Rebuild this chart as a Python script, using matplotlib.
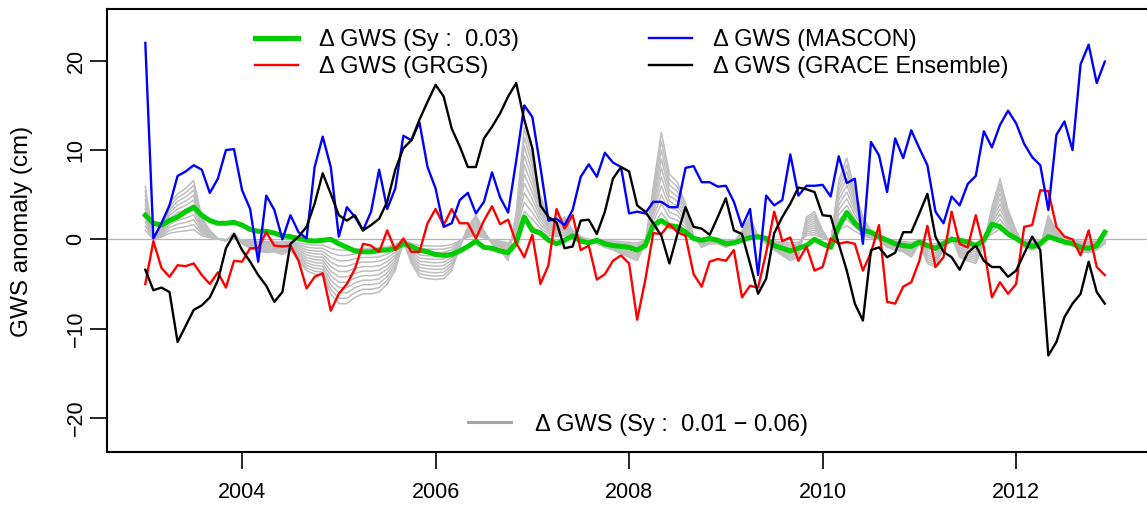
import numpy as np
import matplotlib
matplotlib.use("Agg")
import matplotlib.pyplot as plt
from matplotlib.lines import Line2D

plt.rcParams['font.family'] = ['Liberation Sans', 'DejaVu Sans']

# monthly GWS anomalies (cm), Jan 2003 - Dec 2012
years = 2003 + np.arange(120) / 12

mascon = [22.0, 0.1, 1.8, 3.8, 7.1, 7.6, 8.3, 7.8, 5.2, 6.8, 10.0, 10.1,
          5.5, 3.4, -2.5, 4.9, 3.3, 0.0, 2.7, 0.8, 0.1, 8.1, 11.5, 8.1,
          0.3, 3.6, 2.5, 1.0, 3.1, 7.8, 3.4, 5.7, 11.6, 11.1, 13.1, 8.1,
          5.7, 1.4, 1.8, 4.4, 5.2, 2.9, 4.2, 7.5, 4.7, 3.0, 8.8, 15.0,
          13.7, 8.1, 2.1, 2.3, 1.6, 3.3, 7.0, 8.4, 7.0, 9.7, 8.6, 8.1,
          2.9, 3.1, 2.9, 4.2, 4.2, 3.6, 3.6, 8.0, 8.2, 6.4, 6.4, 5.9,
          6.0, 4.2, 1.4, 3.4, -4.0, 4.9, 3.8, 4.4, 9.5, 4.9, 6.0, 6.0,
          6.1, 4.8, 9.3, 6.3, 6.8, -0.5, 10.9, 9.4, 5.3, 11.3, 9.1, 12.2,
          10.2, 8.3, 3.1, 1.8, 4.8, 3.8, 6.2, 7.1, 12.1, 10.3, 12.8, 14.4,
          13.0, 10.7, 9.2, 8.3, 3.3, 11.7, 13.2, 10.0, 19.6, 21.8, 17.5, 19.9]

grgs = [-5.0, -0.2, -3.2, -4.2, -2.9, -3.0, -2.7, -4.0, -5.0, -3.7, -5.4, -2.4,
        -2.5, -1.0, -1.0, 0.8, -0.7, -0.8, -0.7, -2.4, -5.5, -4.2, -3.8, -8.0,
        -6.1, -5.0, -3.3, -0.5, -0.7, -1.4, 1.0, -1.2, 0.1, -1.4, -1.4, 1.8,
        3.4, 1.6, 3.4, 1.8, 1.8, 0.1, 2.1, 3.7, 1.7, 2.2, -0.4, -2.0,
        0.5, -5.0, -2.9, 3.4, 1.2, 2.7, -1.2, -0.7, -4.5, -3.9, -2.4, -1.8,
        -2.7, -9.0, -4.6, 0.7, 0.6, 1.7, 0.8, 0.4, -3.9, -5.3, -2.5, -2.2,
        -2.4, -1.2, -6.5, -5.2, -5.4, -1.5, 3.1, -0.2, 0.2, -2.4, -0.8, -3.5,
        -3.1, 0.1, -0.5, -0.3, -0.5, -3.5, -1.5, 1.6, -7.0, -7.2, -5.3, -4.8,
        -2.4, 1.5, -3.1, -2.0, 3.1, -0.5, -0.9, 2.7, -0.9, -6.5, -4.8, -6.1,
        -5.0, 1.4, 1.6, 5.5, 5.4, 1.4, 0.3, 0.0, -1.8, 1.0, -3.1, -4.0]

ensemble = [-3.4, -5.7, -5.4, -5.9, -11.5, -9.7, -7.9, -7.4, -6.5, -4.6, -1.0, 0.6,
            -1.2, -2.5, -4.0, -5.2, -7.0, -5.9, -0.5, 0.3, 1.4, 4.0, 7.4, 5.1,
            2.7, 2.1, 2.7, 1.0, 1.6, 2.3, 4.2, 7.8, 10.2, 11.1, 13.4, 15.4,
            17.3, 16.0, 12.4, 10.4, 8.1, 8.1, 11.3, 12.6, 14.1, 16.0, 17.5, 13.4,
            10.2, 3.8, 2.5, 1.9, -1.0, -0.8, 2.1, 2.2, 0.6, 3.1, 6.8, 8.1,
            7.6, 3.8, 3.1, 1.8, 0.4, -2.7, 0.6, 3.6, 1.4, 1.2, 0.5, 2.5,
            4.6, 1.0, 0.6, -2.7, -6.1, -4.4, 0.7, 2.5, 4.0, 5.8, 5.6, 5.3,
            2.7, 2.6, -0.5, -3.5, -7.2, -9.1, -1.2, -0.9, -2.0, -1.5, 0.8, 0.8,
            2.9, 5.1, 0.3, -1.4, -2.0, -3.4, -1.5, -0.7, -2.4, -3.1, -3.1, -4.2,
            -3.5, -1.6, 0.3, -1.2, -13.0, -11.5, -8.7, -7.2, -6.1, -2.5, -5.9, -7.2]

gws_sy03 = [2.7, 1.8, 1.6, 2.1, 2.5, 3.1, 3.6, 2.7, 2.1, 1.8, 1.8, 1.9,
            1.6, 1.1, 0.9, 0.9, 0.7, 0.4, 0.3, 0.1, -0.1, -0.2, -0.1, 0.0,
            -0.5, -0.9, -1.3, -1.4, -1.4, -1.2, -1.2, -1.0, -0.5, -0.8, -1.2, -1.4,
            -1.7, -1.8, -1.7, -1.3, -0.8, -0.2, -0.9, -1.0, -1.3, -1.5, -0.4, 2.5,
            1.0, 0.7, -0.1, -0.5, -0.1, 0.4, -0.2, -0.4, -0.1, -0.5, -0.7, -0.8,
            -0.9, -1.2, -0.7, 1.6, 2.1, 1.5, 1.4, 0.8, 0.1, -0.1, 0.1, -0.1,
            -0.5, -0.4, -0.1, 0.2, 0.3, 0.1, -0.7, -1.0, -1.3, -1.0, -0.7, 0.0,
            -0.5, -0.9, 1.4, 3.0, 1.8, 1.0, 0.8, 0.3, -0.1, -0.5, -0.7, -0.8,
            -0.3, -0.7, -1.0, -0.5, 0.0, -0.1, -0.3, -0.7, -0.1, 1.7, 1.4, 0.6,
            0.1, -0.5, -0.8, -0.5, 0.3, 0.0, -0.3, -0.5, -0.9, -1.0, -0.7, 0.8]

# outermost grey curve (Sy = 0.06); the others scale with Sy
gws_sy06 = [5.9, 0.0, 1.5, 4.0, 5.1, 5.7, 6.6, 2.5, 1.0, 0.1, -0.2, 0.8,
            -0.5, -1.0, -1.3, -1.5, -1.4, -1.7, -1.2, -2.4, -3.5, -3.9, -4.0, -6.1,
            -7.2, -7.2, -6.5, -6.1, -6.1, -5.9, -5.0, -3.5, -0.2, -2.7, -4.2, -4.4,
            -4.5, -4.4, -3.5, -0.9, 1.4, 2.7, 1.0, -0.5, -1.2, -2.4, 3.0, 12.5,
            9.0, 4.9, 2.5, 1.8, 2.5, 1.0, 0.3, -0.1, -0.5, -0.9, -1.2, -1.6,
            -2.0, -2.4, -0.5, 5.9, 12.0, 7.3, 6.4, 4.0, 0.3, -0.9, -0.5, -0.5,
            -0.9, -0.5, 1.0, 2.5, 0.3, -0.5, -1.2, -1.8, -2.4, -2.0, 2.5, 3.1,
            1.0, -0.5, 6.6, 9.1, 5.5, 2.5, 1.0, -0.1, -0.9, -1.2, -1.4, -2.0,
            -0.5, -2.7, -3.1, -0.9, 0.3, -2.0, -2.4, -2.7, -0.5, 3.6, 6.8, 3.3,
            1.0, -0.9, -1.2, -0.9, 2.7, 1.0, -0.1, -0.5, -1.4, -1.5, -1.2, -0.5]
sy_values = [0.01, 0.015, 0.02, 0.025, 0.03, 0.035, 0.04, 0.045, 0.05, 0.055, 0.06]

fig = plt.figure(figsize=(11.47, 5.07), dpi=100)
ax = fig.add_axes([107.3 / 1147, 55.3 / 507, (1150 - 107.3) / 1147, 442.4 / 507])

ax.axhline(0, color='#b4b4b4', lw=0.9, zorder=1)
for sy in sy_values:
    ax.plot(years, np.array(gws_sy06) * sy / 0.06, color='#bebebe', lw=1.1, zorder=2)
l_green, = ax.plot(years, gws_sy03, color='#00cd00', lw=3.6, zorder=3)
l_red, = ax.plot(years, grgs, color='#ff0000', lw=1.7, zorder=4)
l_blue, = ax.plot(years, mascon, color='#0000ff', lw=1.7, zorder=5)
l_black, = ax.plot(years, ensemble, color='black', lw=1.7, zorder=6)

ax.set_xlim(2002.607, 2013.384)
ax.set_ylim(-23.78, 25.76)
ax.set_xticks([2004, 2006, 2008, 2010, 2012])
ax.set_yticks([-20, -10, 0, 10, 20])
ax.tick_params(axis='both', length=12.5, width=1.2, labelsize=15.5)
ax.tick_params(axis='x', pad=9)
ax.tick_params(axis='y', pad=2.5, labelrotation=90)
for lab in ax.get_yticklabels():
    lab.set_verticalalignment('center')
for sp in ax.spines.values():
    sp.set_linewidth(1.5)

fig.text(22 / 1147, (507 - 231) / 507, "GWS anomaly (cm)", rotation=90,
         ha='center', va='center', fontsize=17.5)

leg1 = ax.legend([l_green, l_red, l_blue, l_black],
                 ["Δ GWS (Sy :  0.03)", "Δ GWS (GRGS)",
                  "Δ GWS (MASCON)", "Δ GWS (GRACE Ensemble)"],
                 ncol=2, loc='upper left', bbox_to_anchor=(0.1417, 0.9557),
                 frameon=False, fontsize=17, handlelength=1.82, handletextpad=0.9,
                 columnspacing=5.5, labelspacing=0.23, borderpad=0, borderaxespad=0)
ax.add_artist(leg1)
grey_handle = Line2D([], [], color='#a6a6a6', lw=2.2)
ax.legend([grey_handle], ["Δ GWS (Sy :  0.01 − 0.06)"], loc='upper left',
          bbox_to_anchor=(0.3459, 0.0863), frameon=False, fontsize=17,
          handlelength=1.82, handletextpad=1.0, borderpad=0, borderaxespad=0)

fig.savefig("out.png", dpi=100)
